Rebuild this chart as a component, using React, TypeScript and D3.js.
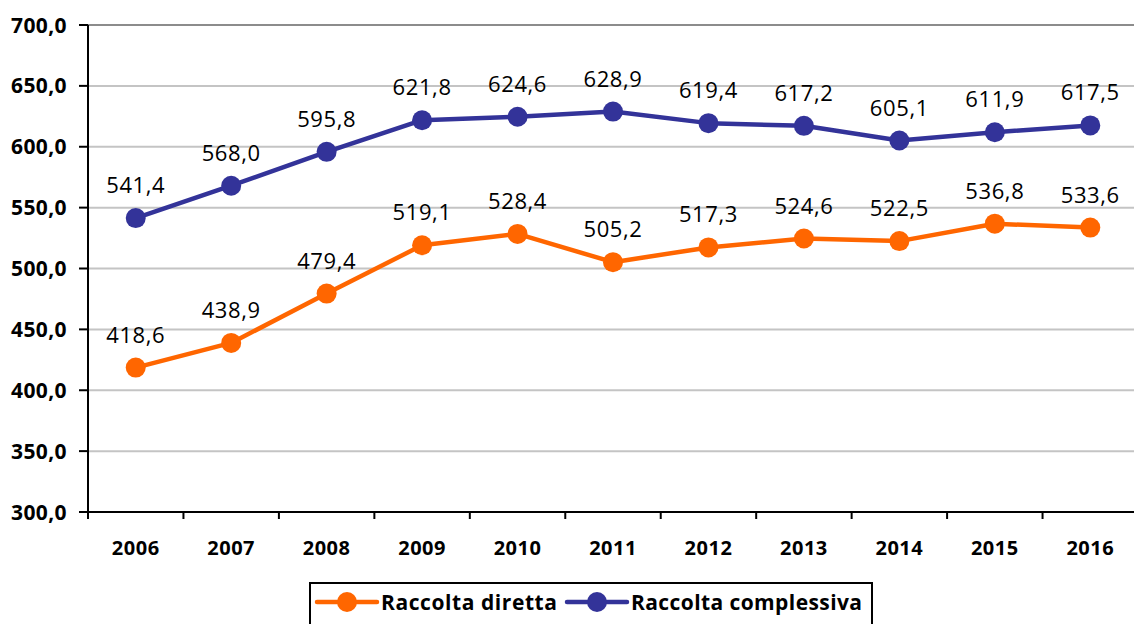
import React, { useEffect, useRef } from 'react';
import * as d3 from 'd3';

const years = ['2006', '2007', '2008', '2009', '2010', '2011', '2012', '2013', '2014', '2015', '2016'];
const raccoltaDiretta = [418.6, 438.9, 479.4, 519.1, 528.4, 505.2, 517.3, 524.6, 522.5, 536.8, 533.6];
const raccoltaComplessiva = [541.4, 568.0, 595.8, 621.8, 624.6, 628.9, 619.4, 617.2, 605.1, 611.9, 617.5];
const yTicks = [300, 350, 400, 450, 500, 550, 600, 650, 700];

const series = [
  { name: 'Raccolta diretta', values: raccoltaDiretta, color: '#ff6600' },
  { name: 'Raccolta complessiva', values: raccoltaComplessiva, color: '#333399' },
];

const fmt = (v: number) => v.toFixed(1).replace('.', ',');
const FONT = "'Open Sans', Lato, sans-serif";

const App = () => {
  const ref = useRef<SVGSVGElement>(null);

  useEffect(() => {
    const svg = d3.select(ref.current);
    svg.selectAll('*').remove();

    const left = 88;
    const right = 1138;
    const top = 25;
    const bottom = 512;

    const x = d3.scaleBand().domain(years).range([left, right]);
    const y = d3.scaleLinear().domain([300, 700]).range([bottom, top]);

    // gridlines
    svg
      .append('g')
      .selectAll('line')
      .data(yTicks.filter(t => t > 300))
      .enter()
      .append('line')
      .attr('x1', left)
      .attr('x2', right)
      .attr('y1', d => y(d))
      .attr('y2', d => y(d))
      .attr('stroke', d => (d === 700 ? '#8c8c8c' : '#c4c4c4'))
      .attr('stroke-width', 2);

    // y axis
    const yAxis = svg.append('g');
    yAxis
      .append('line')
      .attr('x1', left)
      .attr('x2', left)
      .attr('y1', top)
      .attr('y2', bottom + 7)
      .attr('stroke', '#000')
      .attr('stroke-width', 2);
    yAxis
      .selectAll('.tk')
      .data(yTicks)
      .enter()
      .append('line')
      .attr('x1', left - 9)
      .attr('x2', left)
      .attr('y1', d => y(d))
      .attr('y2', d => y(d))
      .attr('stroke', '#000')
      .attr('stroke-width', 2);
    yAxis
      .selectAll('text')
      .data(yTicks)
      .enter()
      .append('text')
      .attr('x', 67)
      .attr('y', d => y(d))
      .attr('dy', '0.36em')
      .attr('text-anchor', 'end')
      .attr('font-family', FONT)
      .attr('font-weight', 'bold')
      .attr('font-size', 21)
      .attr('letter-spacing', 0.4)
      .text(d => fmt(d));

    // x axis
    const xAxis = svg.append('g');
    xAxis
      .append('line')
      .attr('x1', left)
      .attr('x2', right)
      .attr('y1', bottom)
      .attr('y2', bottom)
      .attr('stroke', '#000')
      .attr('stroke-width', 2);
    xAxis
      .selectAll('.tk')
      .data(years)
      .enter()
      .append('line')
      .attr('x1', d => x(d)!)
      .attr('x2', d => x(d)!)
      .attr('y1', bottom)
      .attr('y2', bottom + 7)
      .attr('stroke', '#000')
      .attr('stroke-width', 2);
    xAxis
      .selectAll('text')
      .data(years)
      .enter()
      .append('text')
      .attr('x', d => x(d)! + x.bandwidth() / 2)
      .attr('y', 555)
      .attr('text-anchor', 'middle')
      .attr('font-family', FONT)
      .attr('font-weight', 'bold')
      .attr('font-size', 20)
      .attr('letter-spacing', 0.5)
      .text(d => d);

    const cx = (i: number) => x(years[i])! + x.bandwidth() / 2;

    series.forEach(s => {
      const g = svg.append('g');
      const line = d3
        .line<number>()
        .x((_, i) => cx(i))
        .y(d => y(d));
      g.append('path')
        .attr('d', line(s.values))
        .attr('fill', 'none')
        .attr('stroke', s.color)
        .attr('stroke-width', 4.5)
        .attr('stroke-linejoin', 'round');
      g.selectAll('circle')
        .data(s.values)
        .enter()
        .append('circle')
        .attr('cx', (_, i) => cx(i))
        .attr('cy', d => y(d))
        .attr('r', 10)
        .attr('fill', s.color);
      g.selectAll('text')
        .data(s.values)
        .enter()
        .append('text')
        .attr('x', (_, i) => cx(i))
        .attr('y', d => y(d) - 25)
        .attr('text-anchor', 'middle')
        .attr('font-family', FONT)
        .attr('font-size', 22)
        .attr('letter-spacing', 0.6)
        .attr('fill', '#000')
        .text(d => fmt(d));
    });

    // legend
    const lg = svg.append('g');
    lg.append('rect')
      .attr('x', 310)
      .attr('y', 583)
      .attr('width', 562)
      .attr('height', 60)
      .attr('fill', '#fff')
      .attr('stroke', '#000')
      .attr('stroke-width', 2);
    const legendX = [317, 567];
    const legendTextW = [176, 231];
    series.forEach((s, i) => {
      const x0 = legendX[i];
      const ly = 602;
      lg.append('line')
        .attr('x1', x0)
        .attr('x2', x0 + 60)
        .attr('y1', ly)
        .attr('y2', ly)
        .attr('stroke', s.color)
        .attr('stroke-width', 4.5)
        .attr('stroke-linecap', 'round');
      lg.append('circle').attr('cx', x0 + 30).attr('cy', ly).attr('r', 10).attr('fill', s.color);
      lg.append('text')
        .attr('x', x0 + 64)
        .attr('y', ly)
        .attr('dy', '0.36em')
        .attr('font-family', FONT)
        .attr('font-weight', 'bold')
        .attr('font-size', 21)
        .attr('textLength', legendTextW[i])
        .attr('lengthAdjust', 'spacing')
        .text(s.name);
    });
  }, []);

  return (
    <svg
      ref={ref}
      width={1134}
      height={624}
      style={{ position: 'absolute', left: 0, top: 0, background: '#fff' }}
    />
  );
};

export default App;
